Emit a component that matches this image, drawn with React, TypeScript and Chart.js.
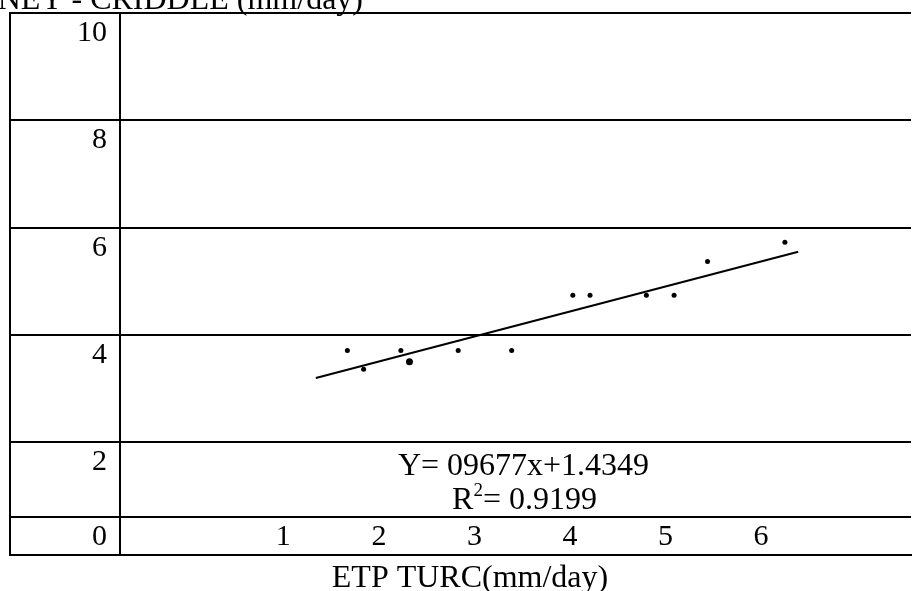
import React, { useEffect, useRef } from "react";
import { Chart, registerables } from "chart.js";

Chart.register(...registerables);

const FONT = "'Liberation Serif', 'Times New Roman', serif";

// Scatter points
const pointsX = [1.67, 1.84, 2.23, 2.32, 2.83, 3.39, 4.03, 4.21, 4.8, 5.09, 5.44, 6.25];
const pointsY = [3.71, 3.36, 3.71, 3.5, 3.71, 3.71, 4.74, 4.74, 4.74, 4.74, 5.37, 5.73];
const pointSizes = [2.5, 2.5, 2.5, 3.5, 2.5, 2.5, 2.5, 2.5, 2.5, 2.5, 2.5, 2.5];

// Trend line end points (as drawn)
const trendX = [1.34, 6.39];
const trendY = [3.2, 5.55];

// Axis ticks
const xTickValues = [1, 2, 3, 4, 5, 6];
const yTickValues = [-0.1, 0.6, 2, 4, 6, 8, 10];
const yTickLabels = ["", "0", "2", "4", "6", "8", "10"];

const titleText = "ETP BLANEY - CRIDDLE (mm/day)";
const xTitleText = "ETP TURC(mm/day)";
const equationText = "Y= 09677x+1.4349";
const r2Value = "0.9199";

const textPlugin = {
  id: "tableTexts",
  afterDraw(chart: any) {
    const ctx = chart.ctx as CanvasRenderingContext2D;
    ctx.save();
    ctx.fillStyle = "#000";
    ctx.textBaseline = "alphabetic";
    ctx.font = `32px ${FONT}`;
    ctx.textAlign = "right";
    ctx.fillText(titleText, 363, 9);
    ctx.textAlign = "center";
    ctx.fillText(xTitleText, 470, 587);
    ctx.fillText(equationText, 523.5, 475);
    // R^2 line
    const rW = ctx.measureText("R").width;
    const restText = "= " + r2Value;
    const restW = ctx.measureText(restText).width;
    ctx.font = `19px ${FONT}`;
    const supW = ctx.measureText("2").width;
    const total = rW + supW + restW;
    let x = 524.5 - total / 2;
    ctx.textAlign = "left";
    ctx.font = `32px ${FONT}`;
    ctx.fillText("R", x, 509);
    x += rW;
    ctx.font = `19px ${FONT}`;
    ctx.fillText("2", x, 496);
    x += supW;
    ctx.font = `32px ${FONT}`;
    ctx.fillText(restText, x, 509);
    ctx.restore();
  },
};

export default function App() {
  const canvasRef = useRef<HTMLCanvasElement | null>(null);

  useEffect(() => {
    if (!canvasRef.current) return;
    const chart = new Chart(canvasRef.current, {
      type: "scatter",
      data: {
        datasets: [
          {
            type: "scatter",
            data: pointsX.map((x, i) => ({ x, y: pointsY[i] })),
            pointRadius: pointSizes,
            pointBackgroundColor: "#000",
            pointBorderWidth: 0,
            borderWidth: 0,
          } as any,
          {
            type: "line",
            data: trendX.map((x, i) => ({ x, y: trendY[i] })),
            borderColor: "#000",
            borderWidth: 2,
            pointRadius: 0,
            fill: false,
          } as any,
        ],
      },
      options: {
        animation: false,
        responsive: false,
        devicePixelRatio: 1,
        layout: { padding: { left: 10, top: 13, right: 0, bottom: 0 } },
        plugins: {
          legend: { display: false },
          tooltip: { enabled: false },
          title: { display: false },
        },
        scales: {
          x: {
            type: "linear",
            position: "bottom",
            min: -0.71,
            max: 7.57,
            afterBuildTicks: (s: any) => {
              s.ticks = xTickValues.map((v) => ({ value: v }));
            },
            afterFit: (s: any) => {
              s.height = 36;
              s.paddingLeft = 0;
              s.paddingRight = 0;
            },
            grid: { drawOnChartArea: false, drawTicks: false },
            border: { display: true, color: "#000", width: 2 },
            ticks: {
              color: "#000",
              font: { family: FONT, size: 30 },
              padding: 0,
              mirror: true,
              autoSkip: false,
              maxRotation: 0,
              minRotation: 0,
              callback: (v: any) => String(v),
            },
          },
          y: {
            type: "linear",
            position: "left",
            min: -0.1,
            max: 10,
            afterBuildTicks: (s: any) => {
              s.ticks = yTickValues.map((v) => ({ value: v }));
            },
            afterFit: (s: any) => {
              s.width = 110;
              s.paddingTop = 0;
              s.paddingBottom = 0;
            },
            grid: {
              color: "#000",
              lineWidth: 2,
              drawTicks: true,
              tickLength: 110,
              tickColor: "#000",
              tickWidth: 2,
            },
            border: { display: true, color: "#000", width: 2 },
            ticks: {
              color: "#000",
              font: { family: FONT, size: 30 },
              padding: -97,
              labelOffset: 20,
              autoSkip: false,
              callback: (v: any) => {
                const i = yTickValues.indexOf(Number(v));
                return i >= 0 ? yTickLabels[i] : "";
              },
            },
          },
          yOuter: {
            type: "linear",
            position: "left",
            weight: 5,
            grid: { drawOnChartArea: false, drawTicks: false },
            ticks: { display: false },
            border: { display: true, color: "#000", width: 2 },
            afterFit: (s: any) => {
              s.width = 0;
              s.paddingTop = 0;
              s.paddingBottom = 0;
            },
          },
        },
      } as any,
      plugins: [textPlugin],
    });
    return () => chart.destroy();
  }, []);

  return (
    <div
      style={{
        position: "fixed",
        left: 0,
        top: 0,
        width: 915,
        height: 591,
        background: "#fff",
      }}
    >
      <canvas ref={canvasRef} width={915} height={591} style={{ display: "block" }} />
    </div>
  );
}
